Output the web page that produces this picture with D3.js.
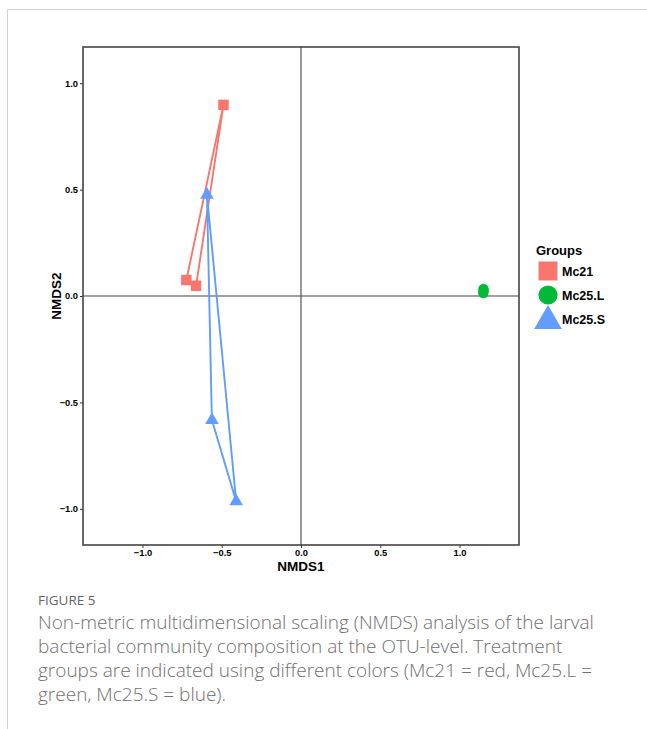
<!DOCTYPE html>
<html>
<head>
<meta charset="utf-8">
<script src="https://cdn.jsdelivr.net/npm/d3@7"></script>
<style>
  body { margin: 0; background: #fff; }
  svg { display: block; }
</style>
</head>
<body>
<div id="chart"></div>
<script>
// NMDS scores, one entry per sample
var groups      = ["Mc21", "Mc25.L", "Mc25.S"];
var colors      = ["#F8766D", "#00BA38", "#619CFF"];
var sampleGroup = ["Mc21", "Mc21", "Mc21", "Mc25.L", "Mc25.L", "Mc25.L", "Mc25.S", "Mc25.S", "Mc25.S"];
var nmds1       = [-0.489, -0.723, -0.662, 1.151, 1.150, 1.152, -0.593, -0.562, -0.409];
var nmds2       = [0.898, 0.075, 0.048, 0.033, 0.014, 0.024, 0.475, -0.583, -0.965];
var tickValues  = [-1.0, -0.5, 0.0, 0.5, 1.0];

var captionTitle = "FIGURE 5";
var captionLines = [
    "Non-metric multidimensional scaling (NMDS) analysis of the larval",
    "bacterial community composition at the OTU-level. Treatment",
    "groups are indicated using different colors (Mc21 = red, Mc25.L =",
    "green, Mc25.S = blue)."
];

var W = 647, H = 729;
var panel = {left: 83, right: 519, top: 47, bottom: 545};

var svg = d3.select("#chart").append("svg").attr("width", W).attr("height", H);

// card frame
svg.append("line").attr("x1", 7.5).attr("x2", W).attr("y1", 9.5).attr("y2", 9.5)
    .attr("stroke", "#d0d0d0").attr("stroke-width", 1);
svg.append("line").attr("x1", 7.5).attr("x2", 7.5).attr("y1", 9.5).attr("y2", H)
    .attr("stroke", "#d0d0d0").attr("stroke-width", 1);

var x = d3.scaleLinear().domain([-1.375, 1.375]).range([panel.left, panel.right]);
var y = d3.scaleLinear().domain([-1.17, 1.17]).range([panel.bottom, panel.top]);
var color = d3.scaleOrdinal().domain(groups).range(colors);

var samples = sampleGroup.map(function(g, i) { return {group: g, x: nmds1[i], y: nmds2[i]}; });

// zero lines
svg.append("line").attr("x1", x(0)).attr("x2", x(0)).attr("y1", panel.top).attr("y2", panel.bottom)
    .attr("stroke", "#444").attr("stroke-width", 1.1);
svg.append("line").attr("x1", panel.left).attr("x2", panel.right).attr("y1", y(0)).attr("y2", y(0))
    .attr("stroke", "#444").attr("stroke-width", 1.1);

// axes
var fmt = d3.format(".1f");
var xAxis = svg.append("g").attr("transform", "translate(0," + panel.bottom + ")")
    .call(d3.axisBottom(x).tickValues(tickValues).tickFormat(fmt).tickSize(3).tickPadding(1.5));
var yAxis = svg.append("g").attr("transform", "translate(" + panel.left + ",0)")
    .call(d3.axisLeft(y).tickValues(tickValues).tickFormat(fmt).tickSize(3).tickPadding(2));
[xAxis, yAxis].forEach(function(a) {
    a.select(".domain").remove();
    a.selectAll(".tick line").attr("stroke", "#333");
    a.selectAll(".tick text").attr("fill", "#000").attr("font-family", "Liberation Sans, Arial, sans-serif")
        .attr("font-size", 9.3).attr("font-weight", "bold");
});

// hulls per group
var hull = svg.append("g");
groups.forEach(function(g) {
    var pts = samples.filter(function(d) { return d.group === g; })
        .map(function(d) { return [x(d.x), y(d.y)]; });
    var h = d3.polygonHull(pts) || pts;
    hull.append("path")
        .attr("d", d3.line()(h) + "Z")
        .attr("fill", "none").attr("stroke", color(g)).attr("stroke-width", 1.9)
        .attr("stroke-linejoin", "round");
});

// points
var symbolOf = {"Mc21": d3.symbolSquare, "Mc25.L": d3.symbolCircle, "Mc25.S": d3.symbolTriangle};
var sizeOf = {"Mc21": 110, "Mc25.L": 85, "Mc25.S": 80};
svg.append("g").selectAll("path").data(samples).join("path")
    .attr("transform", function(d) { return "translate(" + x(d.x) + "," + y(d.y) + ")"; })
    .attr("d", function(d) { return d3.symbol().type(symbolOf[d.group]).size(sizeOf[d.group])(); })
    .attr("fill", function(d) { return color(d.group); });

// panel border
svg.append("rect").attr("x", panel.left).attr("y", panel.top)
    .attr("width", panel.right - panel.left).attr("height", panel.bottom - panel.top)
    .attr("fill", "none").attr("stroke", "#444").attr("stroke-width", 1.6);

// axis titles
svg.append("text").attr("x", (panel.left + panel.right) / 2).attr("y", 571)
    .attr("text-anchor", "middle").attr("font-family", "Liberation Sans, Arial, sans-serif")
    .attr("font-size", 13.5).attr("font-weight", "bold").text("NMDS1");
svg.append("text").attr("transform", "translate(61," + (panel.top + panel.bottom) / 2 + ") rotate(-90)")
    .attr("text-anchor", "middle").attr("font-family", "Liberation Sans, Arial, sans-serif")
    .attr("font-size", 13.5).attr("font-weight", "bold").text("NMDS2");

// legend
var legend = svg.append("g").attr("font-family", "Liberation Sans, Arial, sans-serif").attr("font-weight", "bold");
legend.append("text").attr("x", 536).attr("y", 255).attr("font-size", 13).text("Groups");
var keyBig = {"Mc21": 360, "Mc25.L": 290, "Mc25.S": 330};
groups.forEach(function(g, i) {
    var cy = 271 + i * 24;
    legend.append("path")
        .attr("transform", "translate(548," + (cy + (g === "Mc25.S" ? 2 : 0)) + ")")
        .attr("d", d3.symbol().type(symbolOf[g]).size(keyBig[g])())
        .attr("fill", color(g));
    legend.append("text").attr("x", 562).attr("y", cy + 4.5).attr("font-size", 12.5).text(g);
});

// caption
svg.append("text").attr("x", 38).attr("y", 605)
    .attr("font-family", "Open Sans, sans-serif").attr("font-size", 13.5)
    .attr("fill", "#666").text(captionTitle);
svg.append("g").selectAll("text").data(captionLines).join("text")
    .attr("x", 38).attr("y", function(d, i) { return 629 + i * 24; })
    .attr("font-family", "Open Sans, sans-serif").attr("font-size", 19).attr("font-weight", 300)
    .attr("fill", "#707070").text(function(d) { return d; });
</script>
</body>
</html>
